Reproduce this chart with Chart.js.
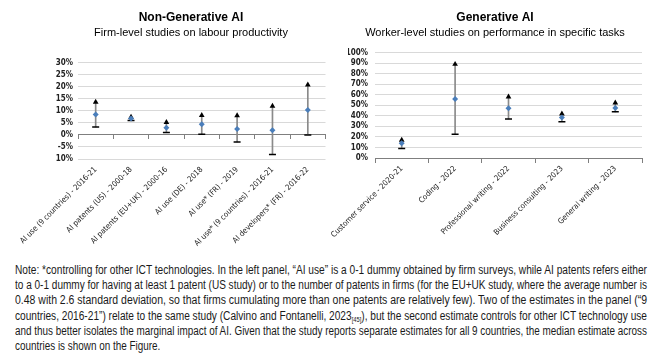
<!DOCTYPE html>
<html>
<head>
<meta charset="utf-8">
<script src="https://cdn.jsdelivr.net/npm/chart.js@4.4.1/dist/chart.umd.min.js"></script>
<style>
  body { margin: 0; background: #fff; width: 662px; height: 356px; position: relative; overflow: hidden; }
  #leftWrap { position: absolute; left: 0; top: 0; }
  #rightWrap { position: absolute; left: 321px; top: 0; }
  #note { position: absolute; left: 15px; top: 263px; width: 632px; color: #1a1a1a;
          font-family: 'Liberation Sans', Arial, sans-serif;
          font-size: 12.3px; line-height: 15.2px; }
  #note div { white-space: nowrap; transform-origin: 0 0; width: max-content; height: 15.2px; }
  #note .sub { font-size: 7px; line-height: 0; position: relative; top: 2px; }
</style>
</head>
<body>
<div id="leftWrap"><canvas id="left" width="331" height="262"></canvas></div>
<div id="rightWrap"><canvas id="right" width="341" height="262"></canvas></div>
<div id="note">
  <div>Note: *controlling for other ICT technologies. In the left panel, “AI use” is a 0-1 dummy obtained by firm surveys, while AI patents refers either</div>
  <div>to a 0-1 dummy for having at least 1 patent (US study) or to the number of patents in firms (for the EU+UK study, where the average number is</div>
  <div>0.48 with 2.6 standard deviation, so that firms cumulating more than one patents are relatively few). Two of the estimates in the panel (“9</div>
  <div>countries, 2016-21”) relate to the same study (Calvino and Fontanelli, 2023<span class="sub">[45]</span>), but the second estimate controls for other ICT technology use</div>
  <div>and thus better isolates the marginal impact of AI. Given that the study reports separate estimates for all 9 countries, the median estimate across</div>
  <div class="last">countries is shown on the Figure.</div>
</div>
<script>
// Non-generative AI: firm-level studies
const ngLabels = [
  'AI use (9 countries) - 2016-21',
  'AI patents (US) - 2000-18',
  'AI patents (EU+UK) - 2000-16',
  'AI use (DE) - 2018',
  'AI use* (FR) - 2019',
  'AI use* (9 countries) - 2016-21',
  'AI developers* (FR) - 2016-22'
];
const ngEstimate = [8.5, 6.8, 3.0, 4.4, 2.5, 1.9, 10.3];
const ngUpper = [13.6, 7.4, 5.2, 8.1, 8.0, 12.0, 20.8];
const ngLower = [3.3, 6.0, 1.0, 0.3, -2.9, -8.1, 0.0];

// Generative AI: worker-level studies
const gLabels = [
  'Customer service - 2020-21',
  'Coding - 2022',
  'Professional writing - 2022',
  'Business consulting - 2023',
  'General writing - 2023'
];
const gEstimate = [14, 56, 47.3, 38.4, 47.5];
const gUpper = [17, 89, 58, 42, 52.3];
const gLower = [9, 22.5, 37, 34.5, 43.8];

const narrow = "'Liberation Sans Narrow', 'Arial Narrow', 'DejaVu Sans Condensed', sans-serif";
const sans = "'Liberation Sans', Arial, sans-serif";

function makeChart(id, o) {
  return new Chart(document.getElementById(id), {
    type: 'bar',
    data: {
      labels: o.labels,
      datasets: [
        {
          type: 'line', data: o.estimate, showLine: false, order: 1,
          pointStyle: 'rectRot', pointRadius: 3, pointBorderWidth: 0,
          pointBackgroundColor: '#4a7ebb', pointBorderColor: '#4a7ebb'
        },
        {
          type: 'line', data: o.upper, showLine: false, order: 2,
          pointStyle: 'triangle', pointRadius: 3.3, pointBorderWidth: 0,
          pointBackgroundColor: '#000', pointBorderColor: '#000'
        },
        {
          type: 'line', data: o.lower, showLine: false, order: 2,
          pointStyle: 'line', pointRadius: 3.5, pointBorderWidth: 1.5,
          pointBorderColor: '#000'
        },
        {
          type: 'bar', order: 3,
          data: o.labels.map((_, i) => [o.lower[i], o.upper[i]]),
          backgroundColor: '#8a8a8a', barThickness: 1
        }
      ]
    },
    options: {
      responsive: false,
      animation: false,
      layout: { padding: { left: o.padLeft, right: o.padRight, top: 0, bottom: 0 } },
      plugins: {
        legend: { display: false },
        tooltip: { enabled: false },
        title: {
          display: true, text: o.title, color: '#000',
          font: { family: sans, size: 12, weight: 'bold' },
          padding: { top: 10, bottom: 0 }
        },
        subtitle: {
          display: true, text: o.subtitle, color: '#000',
          font: { family: sans, size: 11 },
          padding: { top: 2, bottom: o.subPad }
        }
      },
      scales: {
        x: {
          type: 'category',
          position: { y: 0 },
          offset: true,
          ticks: { display: false },
          grid: { drawOnChartArea: false, drawTicks: true, tickLength: 4, offset: true, color: '#7f7f7f' },
          border: { display: true, color: '#7f7f7f', width: 1 }
        },
        x2: {
          type: 'category',
          position: 'bottom',
          offset: true,
          grid: { display: false },
          border: { display: false },
          ticks: {
            autoSkip: false, minRotation: 45, maxRotation: 45, padding: -2,
            color: '#222', font: { family: narrow, size: 7.8 }
          },
          afterFit: s => { s.height = o.xHeight; s.paddingLeft = 0; s.paddingRight = 0; }
        },
        y: {
          min: o.min, max: o.max,
          ticks: {
            stepSize: o.step, autoSkip: false, padding: o.yPad, color: '#222',
            font: { family: narrow, size: 8, weight: 'bold' },
            callback: v => v + '%'
          },
          grid: { color: '#d9d9d9', drawTicks: false },
          border: { display: false },
          afterFit: s => { s.width = o.yWidth; s.paddingTop = 0; s.paddingBottom = 0; }
        }
      }
    }
  });
}

makeChart('left', {
  labels: ngLabels, estimate: ngEstimate, upper: ngUpper, lower: ngLower,
  title: 'Non-Generative AI', subtitle: 'Firm-level studies on labour productivity',
  min: -10, max: 30, step: 5,
  padLeft: 56, yWidth: 22, yPad: 5, padRight: 5, subPad: 23, xHeight: 103
});

makeChart('right', {
  labels: gLabels, estimate: gEstimate, upper: gUpper, lower: gLower,
  title: 'Generative AI', subtitle: 'Worker-level studies on performance in specific tasks',
  min: 0, max: 100, step: 10,
  padLeft: 27, yWidth: 27, yPad: 7, padRight: 20, subPad: 13, xHeight: 104
});

// squeeze each note line to the justified width of the original
let lastScale = 1;
document.querySelectorAll('#note div').forEach(d => {
  if (!d.classList.contains('last')) {
    lastScale = 632 / d.getBoundingClientRect().width;
  }
  d.style.transform = 'scaleX(' + lastScale + ')';
});
</script>
</body>
</html>
